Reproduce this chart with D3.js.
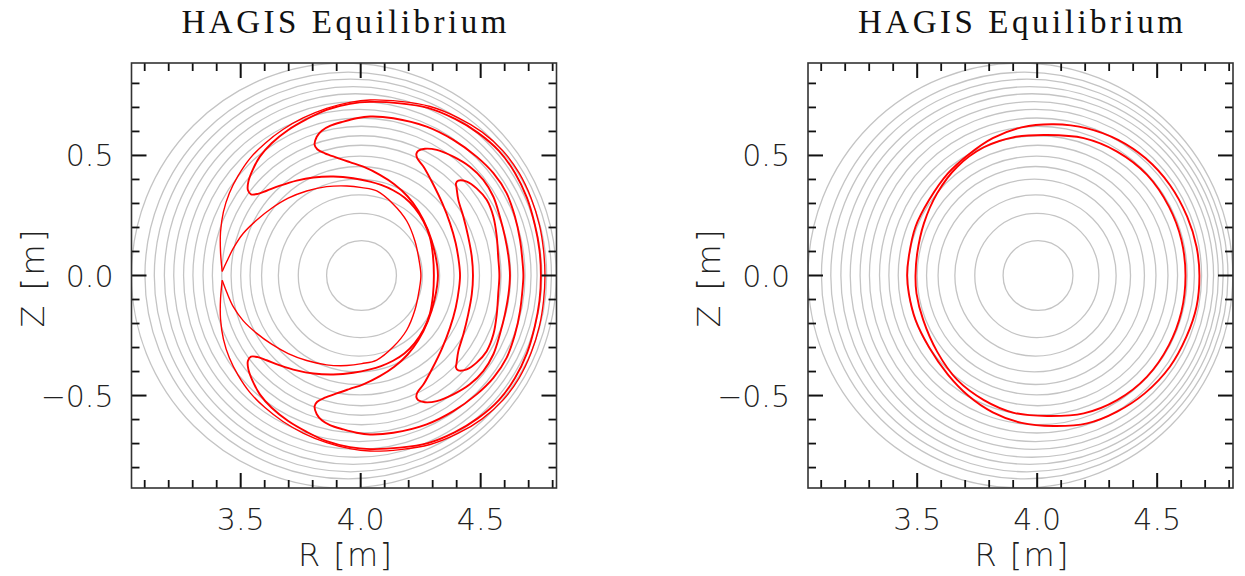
<!DOCTYPE html>
<html>
<head>
<meta charset="utf-8">
<script src="https://cdn.jsdelivr.net/npm/d3@7"></script>
<style>
  html, body { margin: 0; padding: 0; background: #fff; }
  svg { display: block; }
  .tick-label { font-family: 'DejaVu Sans', sans-serif; font-weight: 200; font-size: 30px; fill: #222; }
  .axis-title { font-family: 'DejaVu Sans', sans-serif; font-weight: 200; font-size: 32px; fill: #222; }
  .title { font-family: 'Liberation Serif', 'DejaVu Serif', serif; font-size: 33px; fill: #111; }
</style>
</head>
<body>
<script>
/* global d3 */
(function() {
  'use strict';

  // axis ranges and tick values
  const rRange = [3.045, 4.816];
  const zRange = [-0.885, 0.885];
  const rMajor = [3.5, 4.0, 4.5];
  const rMajorLabels = ['3.5', '4.0', '4.5'];
  const zMajor = [-0.5, 0.0, 0.5];
  const zMajorLabels = ['\u22120.5', '0.0', '0.5'];
  const rMinor = [3.1, 3.2, 3.3, 3.4, 3.6, 3.7, 3.8, 3.9, 4.1, 4.2, 4.3, 4.4, 4.6, 4.7, 4.8];
  const zMinor = [-0.8, -0.7, -0.6, -0.4, -0.3, -0.2, -0.1, 0.1, 0.2, 0.3, 0.4, 0.6, 0.7, 0.8];

  // flux surfaces: inner / outer midplane crossing (R, m)
  const surfRin = [3.858, 3.740, 3.657, 3.587, 3.539, 3.500, 3.460, 3.421, 3.382, 3.343, 3.301, 3.262, 3.221, 3.182, 3.140, 3.101, 3.045];
  const surfRout = [4.149, 4.257, 4.329, 4.389, 4.447, 4.495, 4.545, 4.585, 4.625, 4.655, 4.685, 4.710, 4.735, 4.755, 4.775, 4.795, 4.815];

  // left panel orbits [R, Z]
  const orbitOuterArc = [[3.423,0.017],[3.416,0.098],[3.416,0.181],[3.428,0.265],[3.453,0.344],[3.489,0.415],[3.539,0.488],[3.601,0.550],[3.676,0.608],[3.760,0.656],[3.858,0.696],[3.955,0.721],[4.039,0.731],[4.164,0.725],[4.289,0.704],[4.405,0.658],[4.505,0.598],[4.593,0.519],[4.660,0.427],[4.710,0.323],[4.745,0.210],[4.762,0.106],[4.768,0.000],[4.762,-0.106],[4.745,-0.210],[4.710,-0.323],[4.660,-0.427],[4.593,-0.519],[4.505,-0.598],[4.405,-0.658],[4.289,-0.704],[4.164,-0.725],[4.039,-0.731],[3.955,-0.721],[3.858,-0.696],[3.760,-0.656],[3.676,-0.608],[3.601,-0.550],[3.539,-0.488],[3.489,-0.415],[3.453,-0.344],[3.428,-0.265],[3.416,-0.181],[3.416,-0.098],[3.423,-0.020]];
  const orbitInnerArc = [[3.423,-0.020],[3.442,-0.070],[3.469,-0.130],[3.511,-0.189],[3.567,-0.241],[3.629,-0.286],[3.698,-0.325],[3.775,-0.354],[3.858,-0.372],[3.942,-0.375],[4.005,-0.367],[4.067,-0.352],[4.136,-0.297],[4.192,-0.227],[4.226,-0.144],[4.244,-0.060],[4.251,0.000],[4.244,0.060],[4.226,0.144],[4.192,0.227],[4.136,0.297],[4.067,0.352],[4.005,0.366],[3.942,0.373],[3.858,0.370],[3.775,0.352],[3.698,0.322],[3.629,0.280],[3.567,0.231],[3.511,0.176],[3.469,0.113],[3.442,0.058],[3.423,0.017]];
  const orbitLeftLobes = [[4.751,0.000],[4.745,0.106],[4.726,0.210],[4.693,0.323],[4.643,0.427],[4.576,0.519],[4.489,0.594],[4.393,0.652],[4.280,0.698],[4.164,0.717],[4.039,0.723],[3.955,0.715],[3.858,0.690],[3.775,0.651],[3.698,0.606],[3.629,0.551],[3.580,0.495],[3.550,0.440],[3.532,0.391],[3.530,0.356],[3.543,0.338],[3.572,0.340],[3.608,0.353],[3.664,0.374],[3.733,0.395],[3.803,0.408],[3.886,0.412],[3.969,0.405],[4.039,0.391],[4.085,0.377],[4.135,0.355],[4.182,0.325],[4.225,0.282],[4.262,0.225],[4.288,0.160],[4.301,0.085],[4.305,0.000],[4.301,-0.085],[4.288,-0.160],[4.262,-0.225],[4.225,-0.282],[4.182,-0.325],[4.135,-0.355],[4.085,-0.377],[4.039,-0.391],[3.969,-0.405],[3.886,-0.412],[3.803,-0.408],[3.733,-0.395],[3.664,-0.374],[3.608,-0.353],[3.572,-0.340],[3.543,-0.338],[3.530,-0.356],[3.532,-0.391],[3.550,-0.440],[3.580,-0.495],[3.629,-0.551],[3.698,-0.606],[3.775,-0.651],[3.858,-0.690],[3.955,-0.715],[4.039,-0.723],[4.164,-0.717],[4.280,-0.698],[4.393,-0.652],[4.489,-0.594],[4.576,-0.519],[4.643,-0.427],[4.693,-0.323],[4.726,-0.210],[4.745,-0.106]];
  const orbitTopLobes = [[3.808,0.544],[3.817,0.578],[3.838,0.603],[3.872,0.623],[3.928,0.641],[3.983,0.655],[4.039,0.662],[4.136,0.655],[4.275,0.620],[4.386,0.565],[4.483,0.495],[4.553,0.426],[4.608,0.343],[4.643,0.245],[4.664,0.148],[4.675,0.051],[4.678,0.000],[4.675,-0.051],[4.664,-0.148],[4.643,-0.245],[4.608,-0.343],[4.553,-0.426],[4.483,-0.495],[4.386,-0.565],[4.275,-0.620],[4.136,-0.655],[4.039,-0.662],[3.983,-0.655],[3.928,-0.641],[3.872,-0.623],[3.838,-0.603],[3.817,-0.578],[3.808,-0.544],[3.819,-0.526],[3.851,-0.509],[3.900,-0.491],[3.955,-0.472],[4.011,-0.453],[4.080,-0.419],[4.140,-0.380],[4.195,-0.330],[4.240,-0.270],[4.280,-0.190],[4.308,-0.100],[4.322,0.000],[4.308,0.100],[4.280,0.190],[4.240,0.270],[4.195,0.330],[4.140,0.380],[4.080,0.419],[4.011,0.453],[3.955,0.472],[3.900,0.491],[3.851,0.509],[3.819,0.526]];
  const orbitRightLobes = [[4.232,0.506],[4.240,0.520],[4.268,0.528],[4.317,0.523],[4.386,0.495],[4.455,0.453],[4.511,0.398],[4.553,0.328],[4.580,0.245],[4.601,0.162],[4.616,0.078],[4.622,0.000],[4.616,-0.078],[4.601,-0.162],[4.580,-0.245],[4.553,-0.328],[4.511,-0.398],[4.455,-0.453],[4.386,-0.495],[4.317,-0.523],[4.268,-0.528],[4.240,-0.520],[4.232,-0.506],[4.236,-0.488],[4.262,-0.453],[4.300,-0.384],[4.340,-0.301],[4.372,-0.218],[4.396,-0.134],[4.410,-0.051],[4.414,0.000],[4.410,0.051],[4.396,0.134],[4.372,0.218],[4.340,0.301],[4.300,0.384],[4.262,0.453],[4.236,0.488]];
  const orbitInnerLobes = [[4.397,0.383],[4.407,0.395],[4.442,0.391],[4.483,0.363],[4.525,0.315],[4.553,0.245],[4.567,0.162],[4.573,0.078],[4.578,0.000],[4.573,-0.078],[4.567,-0.162],[4.553,-0.245],[4.525,-0.315],[4.483,-0.363],[4.442,-0.391],[4.407,-0.395],[4.397,-0.383],[4.399,-0.369],[4.407,-0.315],[4.428,-0.245],[4.448,-0.162],[4.463,-0.078],[4.468,0.000],[4.463,0.078],[4.448,0.162],[4.428,0.245],[4.407,0.315],[4.399,0.369]];

  // right panel orbits [R, Z]
  const orbitPassingOuter = [[4.069,0.630],[4.208,0.613],[4.337,0.565],[4.452,0.488],[4.553,0.377],[4.625,0.245],[4.664,0.120],[4.676,0.000],[4.664,-0.130],[4.622,-0.255],[4.553,-0.380],[4.448,-0.491],[4.333,-0.567],[4.208,-0.616],[4.069,-0.627],[3.935,-0.614],[3.815,-0.570],[3.712,-0.500],[3.628,-0.413],[3.550,-0.300],[3.493,-0.185],[3.465,-0.074],[3.458,0.000],[3.465,0.079],[3.493,0.203],[3.550,0.315],[3.628,0.425],[3.712,0.502],[3.815,0.572],[3.935,0.617]];
  const orbitPassingInner = [[4.042,0.585],[4.194,0.572],[4.333,0.516],[4.458,0.419],[4.549,0.287],[4.601,0.148],[4.618,0.000],[4.601,-0.151],[4.549,-0.290],[4.458,-0.421],[4.333,-0.519],[4.194,-0.574],[4.042,-0.585],[3.903,-0.572],[3.778,-0.519],[3.667,-0.435],[3.583,-0.317],[3.525,-0.185],[3.497,-0.074],[3.493,0.000],[3.500,0.092],[3.528,0.217],[3.583,0.342],[3.667,0.453],[3.778,0.534],[3.903,0.576]];

  const panels = [
    { left: 131.5, open: [orbitOuterArc, orbitInnerArc], closed: [orbitLeftLobes, orbitTopLobes, orbitRightLobes, orbitInnerLobes] },
    { left: 808, open: [], closed: [orbitPassingOuter, orbitPassingInner] }
  ];
  const size = 425;
  const top = 63;

  const svg = d3.select('body')
    .append('svg')
    .attr('width', 1245)
    .attr('height', 576);

  panels.forEach((p, i) => {
    const x = d3.scaleLinear().domain(rRange).range([p.left, p.left + size]);
    const y = d3.scaleLinear().domain(zRange).range([top + size, top]);
    const g = svg.append('g');

    svg.append('clipPath')
      .attr('id', 'clip' + i)
      .append('rect')
      .attr('x', p.left).attr('y', top)
      .attr('width', size).attr('height', size);

    const plot = g.append('g').attr('clip-path', 'url(#clip' + i + ')');

    // flux surfaces
    plot.selectAll('ellipse.surf')
      .data(surfRin.map((r, k) => [r, surfRout[k]]))
      .enter()
      .append('ellipse')
      .attr('class', 'surf')
      .attr('cx', (d) => x((d[0] + d[1]) / 2))
      .attr('cy', y(0))
      .attr('rx', (d) => x(d[1]) - x((d[0] + d[1]) / 2))
      .attr('ry', (d) => y(0) - y((d[1] - d[0]) / 2))
      .attr('fill', 'none')
      .attr('stroke', '#c4c4c4')
      .attr('stroke-width', 1.3);

    const lineOpen = d3.line()
      .x((d) => x(d[0]))
      .y((d) => y(d[1]))
      .curve(d3.curveCatmullRom.alpha(0.5));
    const lineClosed = d3.line()
      .x((d) => x(d[0]))
      .y((d) => y(d[1]))
      .curve(d3.curveCatmullRomClosed.alpha(0.5));

    p.open.forEach((o) => {
      plot.append('path').attr('d', lineOpen(o))
        .attr('fill', 'none').attr('stroke', '#ff0000').attr('stroke-width', 1.4);
    });
    p.closed.forEach((o) => {
      plot.append('path').attr('d', lineClosed(o))
        .attr('fill', 'none').attr('stroke', '#ff0000').attr('stroke-width', 1.9);
    });

    // ticks on all four sides
    const tickColor = '#111';
    const majLen = 15;
    const minLen = 8;
    const addXTicks = (vals, len, w) => {
      vals.forEach((v) => {
        g.append('line').attr('x1', x(v)).attr('x2', x(v))
          .attr('y1', top + size).attr('y2', top + size - len)
          .attr('stroke', tickColor).attr('stroke-width', w);
        g.append('line').attr('x1', x(v)).attr('x2', x(v))
          .attr('y1', top).attr('y2', top + len)
          .attr('stroke', tickColor).attr('stroke-width', w);
      });
    };
    const addYTicks = (vals, len, w) => {
      vals.forEach((v) => {
        g.append('line').attr('x1', p.left).attr('x2', p.left + len)
          .attr('y1', y(v)).attr('y2', y(v))
          .attr('stroke', tickColor).attr('stroke-width', w);
        g.append('line').attr('x1', p.left + size).attr('x2', p.left + size - len)
          .attr('y1', y(v)).attr('y2', y(v))
          .attr('stroke', tickColor).attr('stroke-width', w);
      });
    };
    addXTicks(rMinor, minLen, 1.8);
    addXTicks(rMajor, majLen, 2);
    addYTicks(zMinor, minLen, 1.8);
    addYTicks(zMajor, majLen, 2);

    // frame
    g.append('rect')
      .attr('x', p.left).attr('y', top)
      .attr('width', size).attr('height', size)
      .attr('fill', 'none')
      .attr('stroke', '#333')
      .attr('stroke-width', 1.6);

    // tick labels
    g.selectAll('text.xl')
      .data(rMajor)
      .enter()
      .append('text')
      .attr('class', 'tick-label')
      .attr('x', (d) => x(d))
      .attr('y', 530)
      .attr('text-anchor', 'middle')
      .text((d, k) => rMajorLabels[k]);
    g.selectAll('text.yl')
      .data(zMajor)
      .enter()
      .append('text')
      .attr('class', 'tick-label')
      .attr('x', p.left - 18)
      .attr('y', (d) => y(d) + 11)
      .attr('text-anchor', 'end')
      .text((d, k) => zMajorLabels[k]);

    // axis titles
    g.append('text')
      .attr('class', 'axis-title')
      .attr('x', p.left + size / 2 + 1)
      .attr('y', 566)
      .attr('text-anchor', 'middle')
      .attr('textLength', 94)
      .attr('lengthAdjust', 'spacing')
      .text('R [m]');
    g.append('text')
      .attr('class', 'axis-title')
      .attr('transform', 'translate(' + (p.left - 88) + ',' + (top + size / 2 + 3) + ') rotate(-90)')
      .attr('text-anchor', 'middle')
      .attr('textLength', 98)
      .attr('lengthAdjust', 'spacing')
      .text('Z [m]');

    // title
    g.append('text')
      .attr('class', 'title')
      .attr('x', p.left + size / 2)
      .attr('y', 33)
      .attr('text-anchor', 'middle')
      .attr('textLength', 325)
      .attr('lengthAdjust', 'spacing')
      .text('HAGIS Equilibrium');
  });
}());
</script>
</body>
</html>
